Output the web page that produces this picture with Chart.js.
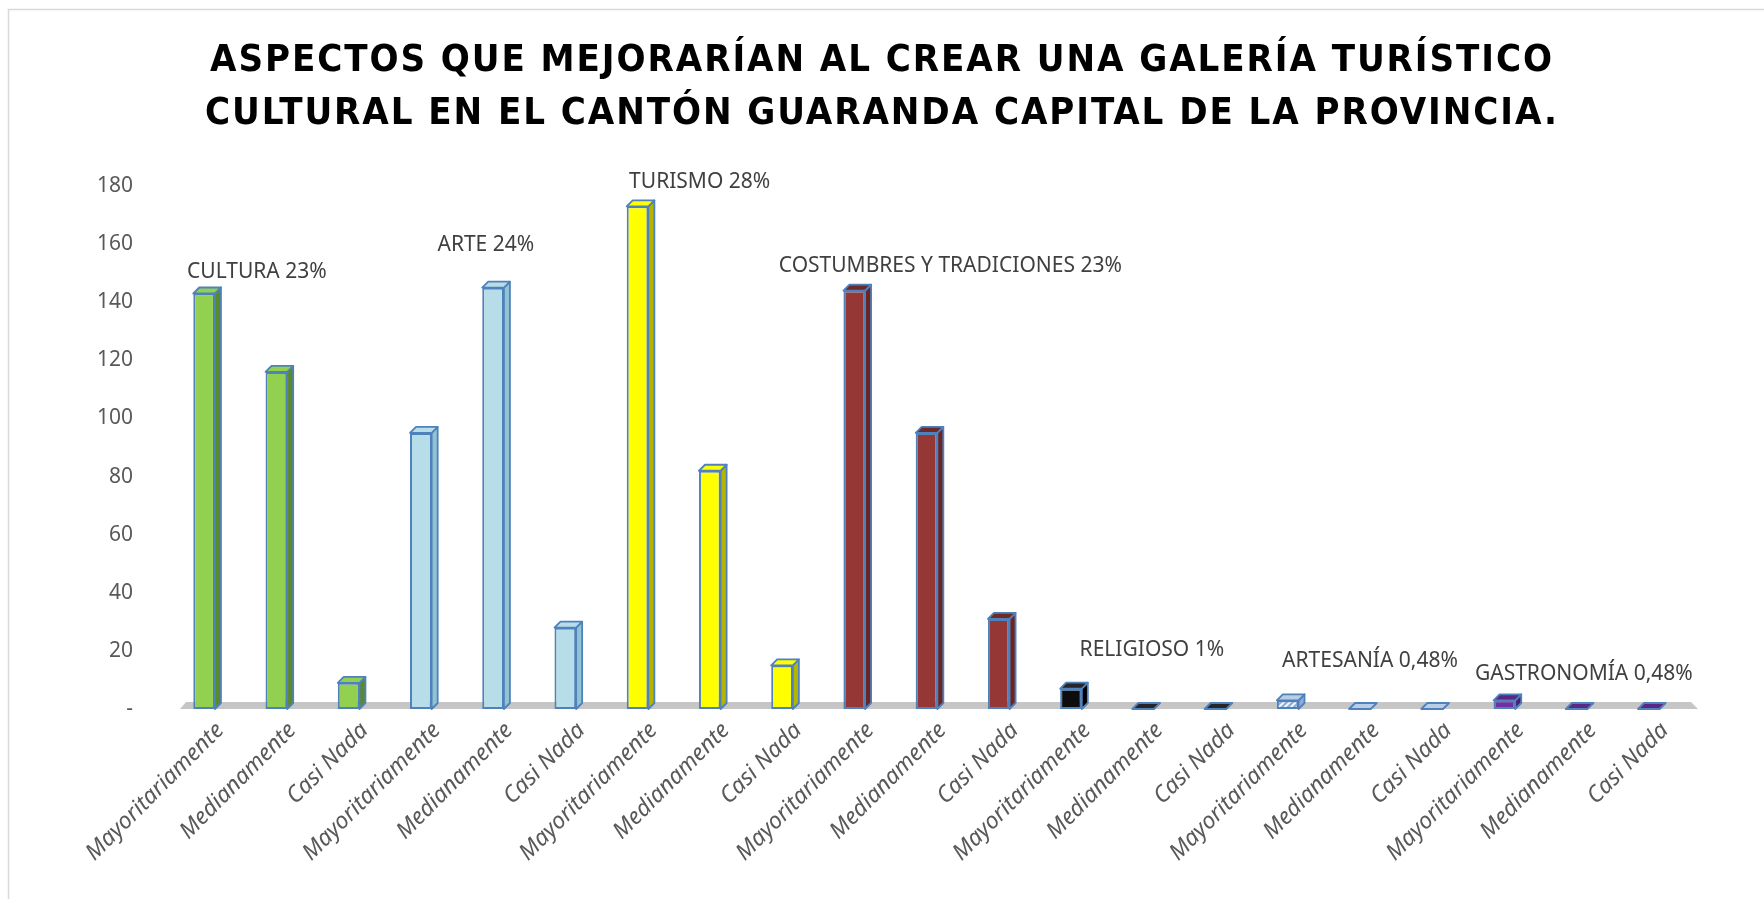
<!DOCTYPE html>
<html>
<head>
<meta charset="utf-8">
<title>Aspectos que mejorarían al crear una galería turístico cultural</title>
<script src="https://cdn.jsdelivr.net/npm/chart.js@4.4.1/dist/chart.umd.min.js"></script>
<style>
  html, body { margin: 0; padding: 0; background: #fff; overflow: hidden; }
  #wrap { position: relative; width: 1764px; height: 899px; }
</style>
</head>
<body>
<div id="wrap"><canvas id="aspectsChart"></canvas></div>
<script>
const titleLines = [
  'ASPECTOS QUE MEJORARÍAN AL CREAR UNA GALERÍA TURÍSTICO',
  'CULTURAL EN EL CANTÓN GUARANDA CAPITAL DE LA PROVINCIA.'
];
const groupNames = ['CULTURA 23%', 'ARTE 24%', 'TURISMO 28%', 'COSTUMBRES Y TRADICIONES 23%',
  'RELIGIOSO 1%', 'ARTESANÍA 0,48%', 'GASTRONOMÍA 0,48%'];
const levels = ['Mayoritariamente', 'Medianamente', 'Casi Nada'];

const cultura = [143, 116, 9];
const arte = [95, 145, 28];
const turismo = [173, 82, 15];
const costumbres = [144, 95, 31];
const religioso = [7, 0, 0];
const artesania = [3, 0, 0];
const gastronomia = [3, 0, 0];

const yTickLabels = ['-', '20', '40', '60', '80', '100', '120', '140', '160', '180'];

// 21 bars, three per aspect
const groupValues = [cultura, arte, turismo, costumbres, religioso, artesania, gastronomia];
const labels = groupValues.flatMap(() => levels);
const values = groupValues.flat();

// hatched fill used by the artesanía bars
function hatchPattern() {
  const c = document.createElement('canvas');
  c.width = 6; c.height = 6;
  const g = c.getContext('2d');
  g.fillStyle = '#8db3e2';
  g.fillRect(0, 0, 6, 6);
  g.strokeStyle = '#ffffff';
  g.lineWidth = 1.6;
  g.beginPath();
  g.moveTo(-1, 7); g.lineTo(7, -1);
  g.moveTo(-1, 1); g.lineTo(1, -1);
  g.moveTo(5, 7); g.lineTo(7, 5);
  g.stroke();
  return g.createPattern(c, 'repeat');
}

const frontColors = ['#92d050', '#b7dee8', '#ffff00', '#953735', '#0d0d0d', hatchPattern(), '#7030a0'];
const sideColors = ['#5b8a2d', '#92c3d1', '#b5b500', '#6b2624', '#000000', '#8eaadb', '#4a1f6e'];
const topColors = ['#92d050', '#b7dee8', '#ffff00', '#6f2a28', '#262626', '#b9cde5', '#5b2785'];
const edge = '#4f81bd';

// where each aspect name sits, in axis units (category index, value)
const labelSpots = [[0.73, 150.4], [3.9, 159.7], [6.86, 181.4], [10.33, 152.6],
  [13.12, 20.3], [16.14, 16.4], [19.1, 12.0]];

const framePlugin = {
  id: 'frame',
  beforeDraw(chart) {
    const ctx = chart.ctx;
    ctx.save();
    ctx.fillStyle = '#ffffff';
    ctx.fillRect(0, 0, chart.width, chart.height);
    ctx.strokeStyle = '#d9d9d9';
    ctx.lineWidth = 1.5;
    ctx.strokeRect(8.5, 9.5, chart.width + 10, chart.height + 10);
    ctx.restore();
  }
};

const spacedTitle = {
  id: 'spacedTitle',
  afterDraw(chart) {
    const ctx = chart.ctx;
    ctx.save();
    ctx.font = 'bold 38px "Liberation Sans Narrow", "DejaVu Sans Condensed", "Noto Sans", sans-serif';
    ctx.fillStyle = '#000000';
    ctx.textAlign = 'left';
    ctx.textBaseline = 'middle';
    const w0 = ctx.measureText(titleLines[0]).width;
    const sp = Math.max(0, (1342 - w0) / (titleLines[0].length - 1));
    const ys = [61, 114];
    titleLines.forEach((line, k) => {
      if ('letterSpacing' in ctx) {
        ctx.letterSpacing = sp + 'px';
        const w = ctx.measureText(line).width - sp;
        ctx.fillText(line, 881 - w / 2, ys[k]);
      } else {
        const w = ctx.measureText(line).width + sp * (line.length - 1);
        let x = 881 - w / 2;
        for (const ch of line) {
          ctx.fillText(ch, x, ys[k]);
          x += ctx.measureText(ch).width + sp;
        }
      }
    });
    ctx.restore();
  }
};

const depthPlugin = {
  id: 'depth',
  beforeDatasetsDraw(chart) {
    const { ctx, chartArea: a, scales: { y } } = chart;
    const b = y.getPixelForValue(0);
    ctx.save();
    ctx.fillStyle = '#c6c6c6';
    ctx.beginPath();
    ctx.moveTo(a.left + 12, b);
    ctx.lineTo(a.right + 13, b);
    ctx.lineTo(a.right + 6, b - 7);
    ctx.lineTo(a.left + 18, b - 7);
    ctx.closePath();
    ctx.fill();
    ctx.restore();
  },
  afterDatasetsDraw(chart) {
    const ctx = chart.ctx;
    const d = 6;
    ctx.save();
    ctx.lineWidth = 1.8;
    ctx.strokeStyle = edge;
    ctx.lineJoin = 'round';
    chart.getDatasetMeta(0).data.forEach((bar, i) => {
      const { x, y, base, width } = bar.getProps(['x', 'y', 'base', 'width'], true);
      const g = Math.floor(i / 3);
      const l = x - width / 2, r = x + width / 2;
      if (base - y > 1) {
        ctx.fillStyle = sideColors[g];
        ctx.beginPath();
        ctx.moveTo(r, y); ctx.lineTo(r + d, y - d); ctx.lineTo(r + d, base - d); ctx.lineTo(r, base);
        ctx.closePath(); ctx.fill(); ctx.stroke();
      }
      ctx.fillStyle = topColors[g];
      ctx.beginPath();
      ctx.moveTo(l, y); ctx.lineTo(r, y); ctx.lineTo(r + d, y - d); ctx.lineTo(l + d, y - d);
      ctx.closePath(); ctx.fill(); ctx.stroke();
    });
    ctx.restore();
  },
  afterDraw(chart) {
    const { ctx, scales: { x, y } } = chart;
    ctx.save();
    ctx.font = '21px "Noto Sans", sans-serif';
    ctx.fillStyle = '#404040';
    ctx.textAlign = 'center';
    ctx.textBaseline = 'middle';
    groupNames.forEach((name, k) => {
      const [ci, v] = labelSpots[k];
      ctx.fillText(name, x.getPixelForValue(ci), y.getPixelForValue(v));
    });
    ctx.restore();
  }
};

new Chart(document.getElementById('aspectsChart'), {
  type: 'bar',
  data: {
    labels: labels,
    datasets: [{
      data: values,
      backgroundColor: values.map((v, i) => frontColors[Math.floor(i / 3)]),
      borderColor: edge,
      borderWidth: 2,
      borderSkipped: false,
      barPercentage: 0.3,
      categoryPercentage: 1
    }]
  },
  options: {
    responsive: true,
    maintainAspectRatio: false,
    animation: false,
    layout: { padding: { top: 186, right: 79, left: 0, bottom: 0 } },
    plugins: {
      legend: { display: false },
      tooltip: { enabled: false },
      title: { display: false }
    },
    scales: {
      x: {
        grid: { display: false, drawTicks: false },
        border: { display: false },
        afterFit: (s) => { s.height = 190; },
        ticks: {
          autoSkip: false,
          maxRotation: 45,
          minRotation: 45,
          padding: 8,
          labelOffset: 16,
          color: '#595959',
          font: { family: '"Noto Sans", sans-serif', size: 23, style: 'italic' }
        }
      },
      y: {
        min: 0,
        max: 180,
        grid: { display: false, drawTicks: false },
        border: { display: false },
        afterFit: (s) => { s.width = 168; },
        ticks: {
          stepSize: 20,
          padding: 35,
          color: '#595959',
          font: { family: '"Noto Sans", sans-serif', size: 21 },
          callback: (v) => yTickLabels[Math.round(v / 20)]
        }
      }
    }
  },
  plugins: [framePlugin, depthPlugin, spacedTitle]
});
</script>
</body>
</html>
